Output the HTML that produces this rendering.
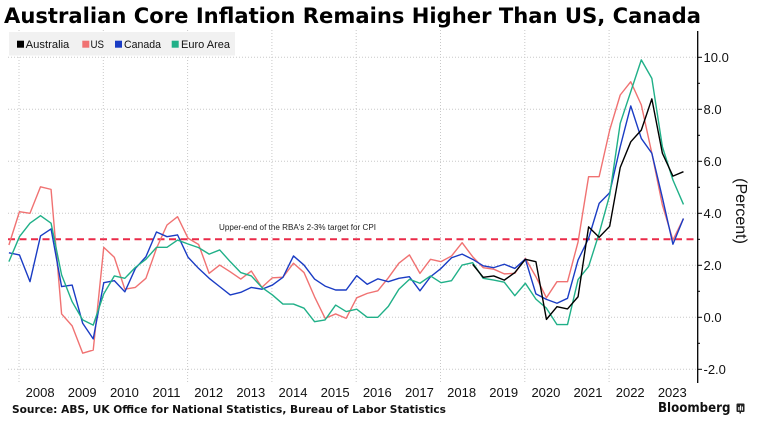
<!DOCTYPE html>
<html><head><meta charset="utf-8"><style>
html,body{margin:0;padding:0;background:#fff;}
svg{display:block;}
</style></head><body>
<svg width="762" height="427" viewBox="0 0 762 427" xmlns="http://www.w3.org/2000/svg">
<rect width="762" height="427" fill="#fff"/>
<text x="4" y="23" font-family="DejaVu Sans, Liberation Sans, sans-serif" font-weight="bold" font-size="21" textLength="697" lengthAdjust="spacingAndGlyphs" fill="#000">Australian Core Inflation Remains Higher Than US, Canada</text>

<g stroke="#c8c8c8" stroke-width="1" stroke-dasharray="1,2" fill="none">
<line x1="8" y1="57.3" x2="697" y2="57.3"/>
<line x1="8" y1="109.3" x2="697" y2="109.3"/>
<line x1="8" y1="161.3" x2="697" y2="161.3"/>
<line x1="8" y1="213.3" x2="697" y2="213.3"/>
<line x1="8" y1="265.3" x2="697" y2="265.3"/>
<line x1="8" y1="317.3" x2="697" y2="317.3"/>
<line x1="8" y1="369.3" x2="697" y2="369.3"/>
<line x1="19" y1="30" x2="19" y2="382"/>
<line x1="103.3" y1="30" x2="103.3" y2="382"/>
<line x1="187.6" y1="30" x2="187.6" y2="382"/>
<line x1="271.9" y1="30" x2="271.9" y2="382"/>
<line x1="356.2" y1="30" x2="356.2" y2="382"/>
<line x1="440.5" y1="30" x2="440.5" y2="382"/>
<line x1="524.8" y1="30" x2="524.8" y2="382"/>
<line x1="609.1" y1="30" x2="609.1" y2="382"/>
</g>

<line x1="8" y1="239.3" x2="697" y2="239.3" stroke="#ea2a48" stroke-width="2" stroke-dasharray="7,4.5"/>
<text x="219" y="230" font-family="Liberation Sans, sans-serif" font-size="8" textLength="157" lengthAdjust="spacingAndGlyphs" fill="#222">Upper-end of the RBA's 2-3% target for CPI</text>

<g transform="matrix(10.54 0 0 -26 8.9 317.3)" fill="none" stroke-linejoin="round">
<polyline vector-effect="non-scaling-stroke" stroke="#f07272" stroke-width="1.4" points="0,2.78 1,4.06 2,4.0 3,5.02 4,4.92 5,0.13 6,-0.33 7,-1.38 8,-1.26 9,2.69 10,2.31 11,1.08 12,1.15 13,1.5 14,2.65 15,3.55 16,3.87 17,3.04 18,2.8 19,1.69 20,2.01 21,1.75 22,1.47 23,1.78 24,1.15 25,1.52 26,1.54 27,2.08 28,1.72 29,0.79 30,-0.04 31,0.13 32,-0.04 33,0.75 34,0.92 35,1.02 36,1.52 37,2.08 38,2.4 39,1.69 40,2.23 41,2.14 42,2.36 43,2.87 44,2.33 45,1.91 46,1.85 47,1.67 48,1.69 49,2.27 50,1.56 51,0.75 52,1.37 53,1.37 54,2.9 55,5.41 56,5.41 57,7.2 58,8.55 59,9.06 60,8.17 61,6.31 62,4.32 63,2.97 64,3.8"/>
<polyline vector-effect="non-scaling-stroke" stroke="#1a3cc4" stroke-width="1.4" points="0,2.48 1,2.4 2,1.37 3,3.13 4,3.4 5,1.18 6,1.24 7,-0.23 8,-0.83 9,1.33 10,1.41 11,0.98 12,1.88 13,2.33 14,3.28 15,3.1 16,3.17 17,2.31 18,1.88 19,1.5 20,1.18 21,0.86 22,0.96 23,1.15 24,1.08 25,1.24 26,1.54 27,2.36 28,2.01 29,1.47 30,1.2 31,1.05 32,1.05 33,1.6 34,1.27 35,1.48 36,1.37 37,1.5 38,1.56 39,1.02 40,1.56 41,1.88 42,2.29 43,2.43 44,2.23 45,1.98 46,1.91 47,2.04 48,1.88 49,2.24 50,0.9 51,0.69 52,0.54 53,0.73 54,2.2 55,3.04 56,4.38 57,4.79 58,6.56 59,8.13 60,6.88 61,6.31 62,4.6 63,2.81 64,3.8"/>
<polyline vector-effect="non-scaling-stroke" stroke="#20b088" stroke-width="1.4" points="0,2.14 1,3.1 2,3.62 3,3.91 4,3.62 5,1.63 6,0.6 7,-0.1 8,-0.3 9,0.9 10,1.59 11,1.5 12,1.92 13,2.23 14,2.69 15,2.69 16,2.97 17,2.82 18,2.68 19,2.43 20,2.59 21,2.14 22,1.72 23,1.59 24,1.15 25,0.86 26,0.51 27,0.51 28,0.35 29,-0.17 30,-0.1 31,0.47 32,0.22 33,0.31 34,0.0 35,0.0 36,0.42 37,1.08 38,1.46 39,1.31 40,1.59 41,1.33 42,1.41 43,2.01 44,2.1 45,1.5 46,1.43 47,1.35 48,0.83 49,1.31 50,0.7 51,0.35 52,-0.28 53,-0.28 54,1.45 55,1.95 56,3.23 57,4.7 58,7.46 59,8.68 60,9.9 61,9.19 62,6.56 63,5.28 64,4.34"/>
<polyline vector-effect="non-scaling-stroke" stroke="#000" stroke-width="1.4" points="44,2.04 45,1.54 46,1.59 47,1.43 48,1.72 49,2.23 50,2.14 51,-0.08 52,0.41 53,0.32 54,0.79 55,3.48 56,3.08 57,3.5 58,5.76 59,6.75 60,7.2 61,8.4 62,6.31 63,5.43 64,5.6"/>
</g>

<rect x="9" y="32" width="226" height="23.5" fill="#f1f1f1"/>
<g font-family="Liberation Sans, sans-serif" font-size="11" fill="#111">
<rect x="17" y="40.7" width="7" height="7" fill="#000"/>
<text x="25.7" y="48" textLength="43.6" lengthAdjust="spacingAndGlyphs">Australia</text>
<rect x="82.3" y="40.7" width="7" height="7" fill="#f07272"/>
<text x="90.5" y="48" textLength="13.5" lengthAdjust="spacingAndGlyphs">US</text>
<rect x="115" y="40.7" width="7" height="7" fill="#1a3cc4"/>
<text x="124" y="48" textLength="37" lengthAdjust="spacingAndGlyphs">Canada</text>
<rect x="171.7" y="40.7" width="7" height="7" fill="#20b088"/>
<text x="181" y="48" textLength="49" lengthAdjust="spacingAndGlyphs">Euro Area</text>
</g>

<line x1="697.7" y1="31" x2="697.7" y2="383" stroke="#000" stroke-width="1.3"/>
<g stroke="#000" stroke-width="1">
<line x1="697.7" y1="57.3" x2="702" y2="57.3"/>
<line x1="697.7" y1="109.3" x2="702" y2="109.3"/>
<line x1="697.7" y1="161.3" x2="702" y2="161.3"/>
<line x1="697.7" y1="213.3" x2="702" y2="213.3"/>
<line x1="697.7" y1="265.3" x2="702" y2="265.3"/>
<line x1="697.7" y1="317.3" x2="702" y2="317.3"/>
<line x1="697.7" y1="369.3" x2="702" y2="369.3"/>
<line x1="697.7" y1="83.3" x2="700" y2="83.3"/>
<line x1="697.7" y1="135.3" x2="700" y2="135.3"/>
<line x1="697.7" y1="187.3" x2="700" y2="187.3"/>
<line x1="697.7" y1="239.3" x2="700" y2="239.3"/>
<line x1="697.7" y1="291.3" x2="700" y2="291.3"/>
<line x1="697.7" y1="343.3" x2="700" y2="343.3"/>
</g>
<g font-family="Liberation Sans, sans-serif" font-size="13" fill="#111">
<text x="703.5" y="62">10.0</text>
<text x="703.5" y="114">8.0</text>
<text x="703.5" y="166">6.0</text>
<text x="703.5" y="218">4.0</text>
<text x="703.5" y="270">2.0</text>
<text x="703.5" y="322">0.0</text>
<text x="703.5" y="374">-2.0</text>
</g>
<text transform="translate(736,211) rotate(90)" text-anchor="middle" font-family="Liberation Sans, sans-serif" font-size="16" fill="#111">(Percent)</text>

<g font-family="Liberation Sans, sans-serif" font-size="13" fill="#111" text-anchor="middle">
<text x="40.1" y="397">2008</text>
<text x="82.2" y="397">2009</text>
<text x="124.4" y="397">2010</text>
<text x="166.5" y="397">2011</text>
<text x="208.7" y="397">2012</text>
<text x="250.8" y="397">2013</text>
<text x="293" y="397">2014</text>
<text x="335.1" y="397">2015</text>
<text x="377.3" y="397">2016</text>
<text x="419.4" y="397">2017</text>
<text x="461.6" y="397">2018</text>
<text x="503.7" y="397">2019</text>
<text x="545.9" y="397">2020</text>
<text x="588" y="397">2021</text>
<text x="630.2" y="397">2022</text>
<text x="672.3" y="397">2023</text>
</g>

<text x="12" y="413" font-family="DejaVu Sans, Liberation Sans, sans-serif" font-weight="bold" font-size="10.5" textLength="434" lengthAdjust="spacingAndGlyphs" fill="#111">Source: ABS, UK Office for National Statistics, Bureau of Labor Statistics</text>

<text x="658" y="412" font-family="DejaVu Sans, Liberation Sans, sans-serif" font-weight="bold" font-size="13.5" textLength="72.5" lengthAdjust="spacingAndGlyphs" fill="#111">Bloomberg</text>
<rect x="736.5" y="403.5" width="8" height="8.5" rx="1" fill="#222"/>
<rect x="738.3" y="407" width="1.1" height="3.5" fill="#fff"/>
<rect x="740" y="405.5" width="1.1" height="5" fill="#fff"/>
<rect x="741.8" y="406.5" width="1.1" height="4" fill="#fff"/>
<rect x="739.5" y="412" width="1.5" height="1.5" fill="#222"/>
</svg>
</body></html>
